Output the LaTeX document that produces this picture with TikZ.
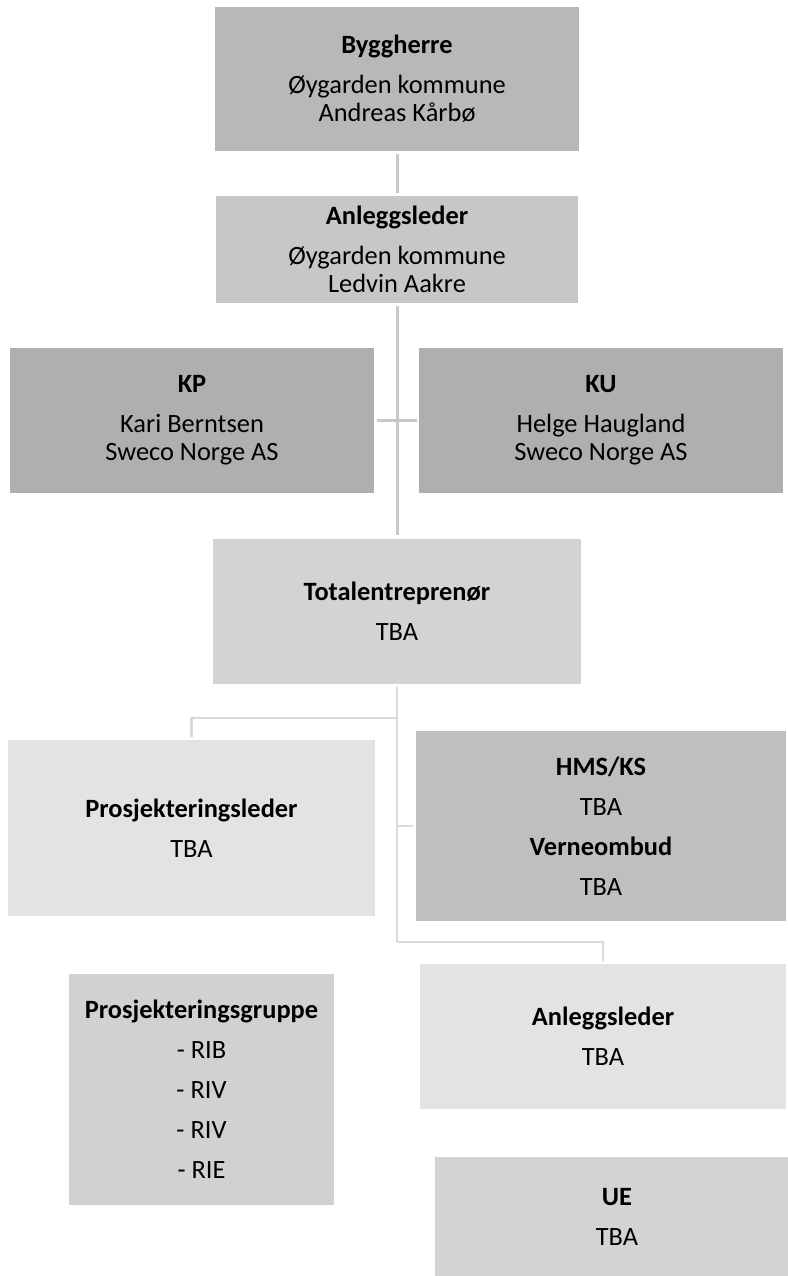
\documentclass[tikz,border=0pt]{standalone}
\usepackage{fontspec}
\setmainfont{Carlito}
\definecolor{cByg}{HTML}{B8B8B8}
\definecolor{cAnl}{HTML}{C7C7C7}
\definecolor{cKP}{HTML}{AFAFAF}
\definecolor{cTot}{HTML}{D3D3D3}
\definecolor{cLight}{HTML}{E3E3E3}
\definecolor{cHMS}{HTML}{BFBFBF}
\definecolor{cPG}{HTML}{D1D1D1}
\definecolor{cLineA}{HTML}{C8C8C8}
\definecolor{cLineB}{HTML}{D9D9D9}
\tikzset{
  orgbox/.style={inner sep=0pt, align=center, text=black,
    font=\fontsize{26.4}{28}\selectfont},
  connA/.style={draw=cLineA, line width=3pt},
  connB/.style={draw=cLineB, line width=2.7pt},
}
\newcommand{\gapline}{\\[12pt]}
\begin{document}
\begin{tikzpicture}[x=1pt,y=-1pt]
\useasboundingbox[fill=white] (0,0) rectangle (787,1276);
% boxes (centre, width, height)
\node[orgbox, fill=cByg, minimum width=364pt, minimum height=144pt] (byg) at (397,79)
  {\textbf{Byggherre}\gapline Øygarden kommune\\Andreas Kårbø};
\node[orgbox, fill=cAnl, minimum width=362pt, minimum height=107pt] (anl1) at (397,249.5)
  {\textbf{Anleggsleder}\gapline Øygarden kommune\\Ledvin Aakre};
\node[orgbox, fill=cKP, minimum width=364pt, minimum height=145pt] (kp) at (192,420.5)
  {\textbf{KP}\gapline Kari Berntsen\\Sweco Norge AS};
\node[orgbox, fill=cKP, minimum width=364pt, minimum height=145pt] (ku) at (601,420.5)
  {\textbf{KU}\gapline Helge Haugland\\Sweco Norge AS};
\node[orgbox, fill=cTot, minimum width=368pt, minimum height=145pt] (tot) at (397,611.5)
  {\textbf{Totalentreprenør}\gapline TBA};
\node[orgbox, fill=cLight, minimum width=367pt, minimum height=176pt] (pl) at (191.5,828)
  {\textbf{Prosjekteringsleder}\gapline TBA};
\node[orgbox, fill=cHMS, minimum width=370pt, minimum height=190pt] (hms) at (601,826)
  {\textbf{HMS/KS}\gapline TBA\gapline \textbf{Verneombud}\gapline TBA};
\node[orgbox, fill=cLight, minimum width=366pt, minimum height=145pt] (anl2) at (603,1036.5)
  {\textbf{Anleggsleder}\gapline TBA};
\node[orgbox, fill=cPG, minimum width=265pt, minimum height=231pt] (pg) at (201.5,1089.5)
  {\textbf{Prosjekteringsgruppe}\gapline - RIB\gapline - RIV\gapline - RIV\gapline - RIE};
\node[orgbox, fill=cTot, minimum width=364pt, minimum height=119pt] (ue) at (617,1216.5)
  {\textbf{UE}\gapline TBA};
% connectors
\draw[connA, shorten <=3pt, shorten >=3pt] (byg.south) -- (anl1.north);
\draw[connA, shorten <=3pt, shorten >=4pt] (anl1.south) -- (tot.north);
\draw[connA, line width=2.4pt, shorten <=3pt, shorten >=2pt] (kp.east) -- (ku.west);
\coordinate (j1) at (397,718);
\coordinate (j2) at (397,942);
\draw[connB, shorten <=3pt] (tot.south) -- (j2);
\draw[connB, shorten >=3pt] (j1) -| (pl.north);
\draw[connB, shorten >=3pt] (tot.south |- hms.west) -- (hms.west);
\draw[connB, shorten >=3pt] (j2) -| (anl2.north);
\end{tikzpicture}
\end{document}
